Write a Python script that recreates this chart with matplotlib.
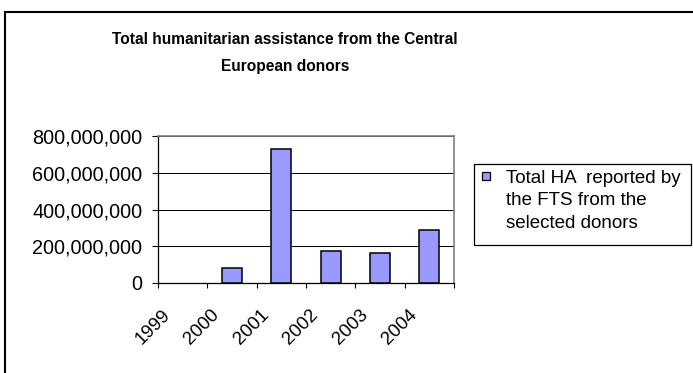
import matplotlib
matplotlib.use('Agg')
import matplotlib.pyplot as plt
import matplotlib.patches as patches
from matplotlib.transforms import ScaledTranslation
import numpy as np

plt.rcParams['font.family'] = ['Liberation Sans', 'DejaVu Sans']

# data
years = ['1999', '2000', '2001', '2002', '2003', '2004']
total_ha = [0, 82000000, 729000000, 174000000, 163000000, 288000000]
ytick_vals = [0, 200000000, 400000000, 600000000, 800000000]
ytick_labels = ['0', '200,000,000', '400,000,000', '600,000,000', '800,000,000']
legend_label = 'Total HA  reported by\nthe FTS from the\nselected donors'
title = 'Total humanitarian assistance from the Central\nEuropean donors'

BAR_COLOR = '#9999FF'
W, H = 693, 373
fig = plt.figure(figsize=(W/100, H/100), dpi=100)
ax = fig.add_axes([158/W, 1-283/H, (454-158)/W, (283-136)/H])

x = np.arange(len(years))
bars = ax.bar(x, total_ha, width=0.4, color=BAR_COLOR, edgecolor='black',
              linewidth=1.1, zorder=3)
# excel draws nothing for a zero bar
for b, v in zip(bars, total_ha):
    if v == 0:
        b.set_visible(False)

ax.set_xlim(-0.5, len(years)-0.5)
ax.set_ylim(0, 800000000)
ax.set_yticks(ytick_vals)
ax.set_yticklabels(ytick_labels, fontsize=14.3)
ax.yaxis.grid(True, color='black', linewidth=0.75, zorder=0)

ax.set_xticks(x)
ax.set_xticklabels(years, fontsize=13.5, rotation=45, ha='right', va='center',
                   rotation_mode='anchor')
ax.set_xticks(np.arange(len(years)+1)-0.5, minor=True)
ax.tick_params(axis='x', which='major', length=0, pad=21)
ax.tick_params(axis='x', which='minor', length=3.6, width=0.8, direction='out')
ax.tick_params(axis='y', length=4.3, width=0.8, direction='out', pad=7)
for lbl in ax.get_xticklabels():
    lbl.set_transform(lbl.get_transform() + ScaledTranslation(-15/100, 0, fig.dpi_scale_trans))

for s in ['left', 'bottom']:
    ax.spines[s].set_color('black')
    ax.spines[s].set_linewidth(0.9)
for s in ['top', 'right']:
    ax.spines[s].set_color('#808080')
    ax.spines[s].set_linewidth(1.2)

fig.text(285/W, 1-53/H, title, ha='center', va='center', fontsize=11.2,
         fontweight='bold', linespacing=2.0)

# legend box drawn by hand so the square sits beside the first line
fig.patches.append(patches.Rectangle((474/W, 1-245/H), (691-474)/W, (245-164)/H,
                                     transform=fig.transFigure, fill=False,
                                     edgecolor='black', linewidth=0.9))
fig.patches.append(patches.Rectangle((482/W, 1-180/H), 8/W, 8/H,
                                     transform=fig.transFigure, facecolor=BAR_COLOR,
                                     edgecolor='black', linewidth=0.9))
fig.text(506/W, 1-170/H, legend_label, ha='left', va='top', fontsize=13.5,
         linespacing=1.42)

# outer chart border, clipped by the image edges
fig.patches.append(patches.Rectangle((5/W, -0.1), 1.1, 1.1-12/H, transform=fig.transFigure,
                                     fill=False, edgecolor='black', linewidth=1.5))

fig.savefig('out.png', dpi=100)
